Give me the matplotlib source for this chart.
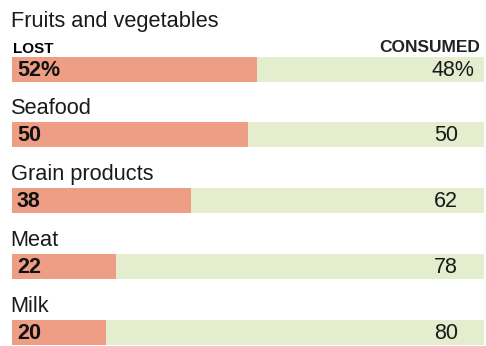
import matplotlib.pyplot as plt

categories = ['Fruits and vegetables', 'Seafood', 'Grain products', 'Meat', 'Milk']
lost = [52, 50, 38, 22, 20]
consumed = [48, 50, 62, 78, 80]

LOST_COLOR = '#ee9e84'
CONSUMED_COLOR = '#e4eecf'
TEXT = '#1a1a1a'

plt.rcParams['font.family'] = ['Liberation Sans', 'DejaVu Sans']

fig = plt.figure(figsize=(4.86, 3.46), dpi=100)
fig.patch.set_facecolor('white')
# x runs in percent across the bar span, y in pixel rows from the top
ax = fig.add_axes([12 / 486, 0, 472 / 486, 1])
ax.set_xlim(0, 100)
ax.set_ylim(346, 0)
ax.axis('off')

px = 100 / 472  # one pixel in percent units
bar_h = 25
tops = [57 + i * 66 for i in range(len(categories))]
tops = [t if i == 0 else t - 1 for i, t in enumerate(tops)]
centers = [t + bar_h / 2 for t in tops]

ax.barh(centers, lost, height=bar_h, color=LOST_COLOR, linewidth=0)
ax.barh(centers, consumed, left=lost, height=bar_h, color=CONSUMED_COLOR, linewidth=0)

for i, cat in enumerate(categories):
    top = tops[i]
    label_y = top - 30 if i == 0 else top - 8
    ax.text(-0.3, label_y, cat, fontsize=15.7, color=TEXT, va='baseline', ha='left')
    suffix = '%' if i == 0 else ''
    right = 462 if i == 0 else 446
    ax.text(5 * px, centers[i] + 1, f'{lost[i]}{suffix}', fontsize=15.5, fontweight='bold',
            color='#111111', va='center', ha='left')
    ax.text(right * px, centers[i] + 1, f'{consumed[i]}{suffix}', fontsize=15.5,
            color=TEXT, va='center', ha='right')

ax.text(0.2, tops[0] - 4, 'LOST', fontsize=11, fontweight='bold', color='black',
        va='baseline', ha='left')
ax.text(99.2, tops[0] - 5, 'CONSUMED', fontsize=12.5, color='#222222',
        family=['Liberation Sans Narrow', 'Liberation Sans'], fontweight='bold',
        va='baseline', ha='right')

fig.savefig('out.png', dpi=100, facecolor='white')
